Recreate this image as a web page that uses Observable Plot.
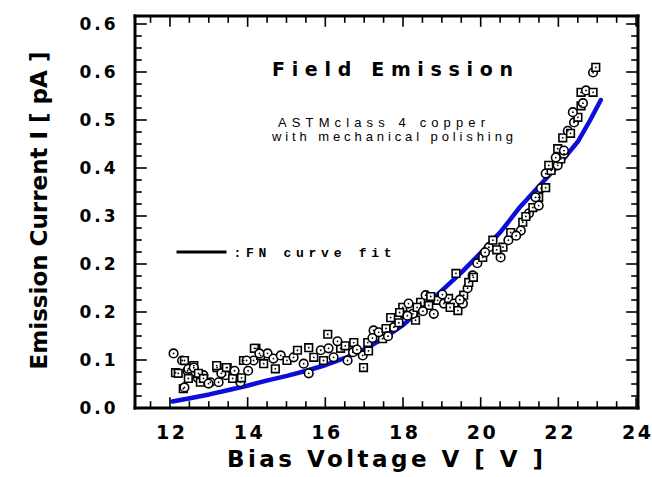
<!DOCTYPE html>
<html><head><meta charset="utf-8">
<script src="https://cdn.jsdelivr.net/npm/d3@7"></script>
<script src="https://cdn.jsdelivr.net/npm/@observablehq/plot@0.6"></script>
<style>body{margin:0;background:#fff}</style>
</head><body><div id="chart"></div>
<script>
// Measured emission current (scatter)
const ptX = [12.08,12.33,12.30,12.13,12.44,12.60,12.70,12.46,12.85,12.77,13.03,13.20,13.24,13.46,13.42,13.60,13.80,13.88,14.00,14.20,
  14.14,14.32,14.50,14.40,14.65,14.70,14.84,15.00,15.17,15.27,15.43,15.56,15.56,15.69,15.87,16.05,16.07,15.94,16.20,
  12.36,12.46,12.20,12.60,12.72,12.36,12.85,12.98,13.19,13.31,13.44,13.65,13.83,13.96,14.16,14.29,
  16.38,16.56,16.72,16.70,16.97,16.95,17.08,17.23,17.46,17.36,17.67,17.75,17.88,18.00,17.98,18.13,18.31,18.24,18.44,18.57,
  18.65,18.78,18.88,19.04,19.16,19.30,19.40,19.53,19.55,19.65,19.68,19.78,19.35,
  16.30,16.50,16.80,17.10,17.20,17.55,17.60,17.90,18.10,18.35,18.50,18.70,19.00,19.20,19.45,
  19.80,19.90,20.04,20.20,20.30,20.50,20.56,20.70,20.76,21.02,21.07,21.23,21.33,21.48,21.48,21.54,21.66,21.66,21.80,21.97,22.05,22.13,
  21.74,21.92,21.97,22.13,22.10,22.23,22.30,22.39,22.49,22.36,22.57,22.62,22.57,22.70,22.88,22.88,22.95,
  20.10,20.40,20.90,21.15,21.40];
const ptY = [0.086,0.031,0.075,0.056,0.059,0.067,0.048,0.047,0.052,0.041,0.041,0.064,0.041,0.064,0.052,0.047,0.041,0.075,0.059,0.094,
  0.075,0.083,0.086,0.070,0.078,0.062,0.083,0.075,0.080,0.091,0.070,0.095,0.055,0.080,0.091,0.116,0.094,0.075,0.080,
  0.075,0.062,0.055,0.064,0.055,0.033,0.047,0.039,0.067,0.055,0.064,0.059,0.048,0.075,0.094,0.086,
  0.094,0.075,0.103,0.088,0.064,0.083,0.103,0.122,0.109,0.119,0.142,0.127,0.134,0.148,0.158,0.164,0.138,0.148,0.166,0.177,
  0.161,0.148,0.169,0.164,0.172,0.164,0.153,0.164,0.177,0.188,0.197,0.208,0.211,
  0.105,0.098,0.092,0.090,0.110,0.125,0.113,0.150,0.145,0.158,0.152,0.175,0.178,0.158,0.170,
  0.205,0.227,0.236,0.252,0.263,0.236,0.252,0.263,0.275,0.278,0.291,0.305,0.314,0.317,0.330,0.344,0.345,0.367,0.372,0.380,0.390,0.398,
  0.380,0.392,0.406,0.403,0.423,0.434,0.430,0.447,0.455,0.463,0.473,0.477,0.494,0.497,0.494,0.525,0.533,
  0.244,0.248,0.270,0.300,0.330];
// FN curve fit (blue)
const fitX = [12.05,12.5,13.0,13.5,14.0,14.5,15.0,15.5,16.0,16.5,17.0,17.5,18.0,18.5,19.0,19.5,20.0,20.5,21.0,21.5,22.0,22.5,22.8,23.08];
const fitY = [0.011,0.016,0.022,0.029,0.036,0.044,0.051,0.059,0.068,0.079,0.093,0.110,0.131,0.157,0.185,0.213,0.244,0.276,0.315,0.348,0.381,0.418,0.450,0.482];
// Axis ticks and labels
const xTicks = [12,14,16,18,20,22,24];
const yTicks = [0,0.075,0.15,0.225,0.3,0.375,0.45,0.525,0.6];
const yTickLabels = ["0.0","0.1","0.2","0.2","0.3","0.4","0.5","0.6","0.6"];
const xMinor = [11.5,12.5,13,13.5,14.5,15,15.5,16.5,17,17.5,18.5,19,19.5,20.5,21,21.5,22.5,23,23.5];
const yMinor = d3.range(0, 0.601, 0.01875).filter(v => !yTicks.some(t => Math.abs(t - v) < 1e-9));

const W = 652, H = 477, mL = 135, mR = 14, mT = 16, mB = 69;
const xDom = [11.1, 24.05], yDom = [0, 0.6125];

const pts = ptX.map((x, i) => ({x, y: ptY[i], s: i % 2 ? "square" : "circle"}));
const fit = fitX.map((x, i) => ({x, y: fitY[i]}));
const yLab = new Map(yTicks.map((t, i) => [t, yTickLabels[i]]));

const NS = "http://www.w3.org/2000/svg";
const mkLine = (g, x1, y1, x2, y2, w) => {
  const l = document.createElementNS(NS, "line");
  l.setAttribute("x1", x1); l.setAttribute("y1", y1);
  l.setAttribute("x2", x2); l.setAttribute("y2", y2);
  l.setAttribute("stroke", "black"); l.setAttribute("stroke-width", w);
  l.setAttribute("stroke-linecap", "square");
  g.appendChild(l);
};

// frame, inward ticks on all four sides, and the legend swatch — positioned through Plot's scales
const frameAndTicks = (index, scales) => {
  const sx = typeof scales.x === "function" ? scales.x : d3.scaleLinear(xDom, [mL, W - mR]);
  const sy = typeof scales.y === "function" ? scales.y : d3.scaleLinear(yDom, [H - mB, mT]);
  const g = document.createElementNS(NS, "g");
  const L = sx(xDom[0]), R = sx(xDom[1]), B = sy(yDom[0]), T = sy(yDom[1]);
  for (const [v, len] of [...xMinor.map(v => [v, 6]), ...xTicks.map(v => [v, 10])]) {
    const px = sx(v);
    mkLine(g, px, B, px, B - len, 1.6);
    mkLine(g, px, T, px, T + len, 1.6);
  }
  for (const [v, len] of [...yMinor.map(v => [v, 6]), ...yTicks.map(v => [v, 11])]) {
    const py = sy(v);
    mkLine(g, L, py, L + len, py, 1.6);
    mkLine(g, R, py, R - len, py, 1.6);
  }
  mkLine(g, L, B, R, B, 3);
  mkLine(g, R, B, R, T, 3);
  mkLine(g, R, T, L, T, 3);
  mkLine(g, L, T, L, B, 3);
  mkLine(g, 178, 252, 225, 252, 3);
  return g;
};

const plot = Plot.plot({
  width: W, height: H,
  marginLeft: mL, marginRight: mR, marginTop: mT, marginBottom: mB,
  x: {domain: xDom, axis: null},
  y: {domain: yDom, axis: null},
  style: {fontFamily: "DejaVu Sans", fontWeight: "bold", background: "white", color: "black"},
  symbol: {domain: ["circle", "square"], range: ["circle", "square"]},
  marks: [
    Plot.line(fit, {x: "x", y: "y", stroke: "#0c0cdc", strokeWidth: 4.5}),
    Plot.dot(pts, {x: "x", y: "y", symbol: "s", r: 4.3, stroke: "black", strokeWidth: 1.6, fill: "white"}),
    Plot.dot(pts, {x: "x", y: "y", r: 0.9, fill: "black"}),
    Plot.axisX({ticks: xTicks, tickSize: 0, tickPadding: 17, fontSize: 19, label: null, tickFormat: d => String(d)}),
    Plot.axisY({ticks: yTicks, tickSize: 0, tickPadding: 20, fontSize: 17, label: null, tickFormat: d => yLab.get(d)}),
    Plot.text(["Bias Voltage V [ V ]"], {frameAnchor: "bottom", textAnchor: "middle", dy: 58, dx: -2, lineAnchor: "bottom", fontSize: 23}),
    Plot.text(["Emission Current I [ pA ]"], {frameAnchor: "left", textAnchor: "middle", dx: 39 - mL, dy: -2, rotate: -90, lineAnchor: "middle", fontSize: 23}),
    Plot.text(["Field Emission"], {frameAnchor: "top-left", textAnchor: "middle", dx: 392 - mL, dy: 75 - mT, lineAnchor: "bottom", fontSize: 19}),
    Plot.text(["ASTMclass 4 copper"], {frameAnchor: "top-left", textAnchor: "middle", dx: 381 - mL, dy: 126 - mT, lineAnchor: "bottom", fontSize: 13, fontFamily: "Liberation Sans", fontWeight: "normal"}),
    Plot.text(["with mechanical polishing"], {frameAnchor: "top-left", textAnchor: "middle", dx: 392 - mL, dy: 140 - mT, lineAnchor: "bottom", fontSize: 13, fontFamily: "Liberation Sans", fontWeight: "normal"}),
    Plot.text([":FN curve fit"], {frameAnchor: "top-left", textAnchor: "start", dx: 233 - mL, dy: 256 - mT, lineAnchor: "bottom", fontSize: 13, fontFamily: "Liberation Mono", fontWeight: "bold"}),
    frameAndTicks
  ]
});

// stretch the wide-set texts of the original to their measured lengths
const widths = new Map([
  ["Bias Voltage V [ V ]", 316], ["Field Emission", 241], ["ASTMclass 4 copper", 207],
  ["with mechanical polishing", 241], [":FN curve fit", 158]
]);
plot.querySelectorAll("text").forEach(t => {
  const s = t.textContent;
  let w = widths.get(s);
  if (w == null && /^\d\d$/.test(s)) w = 29;
  if (w == null && /^0\.\d$/.test(s)) w = 36;
  if (w != null) { t.setAttribute("textLength", w); t.setAttribute("lengthAdjust", "spacing"); }
});
document.getElementById("chart").appendChild(plot);
</script>
</body></html>
